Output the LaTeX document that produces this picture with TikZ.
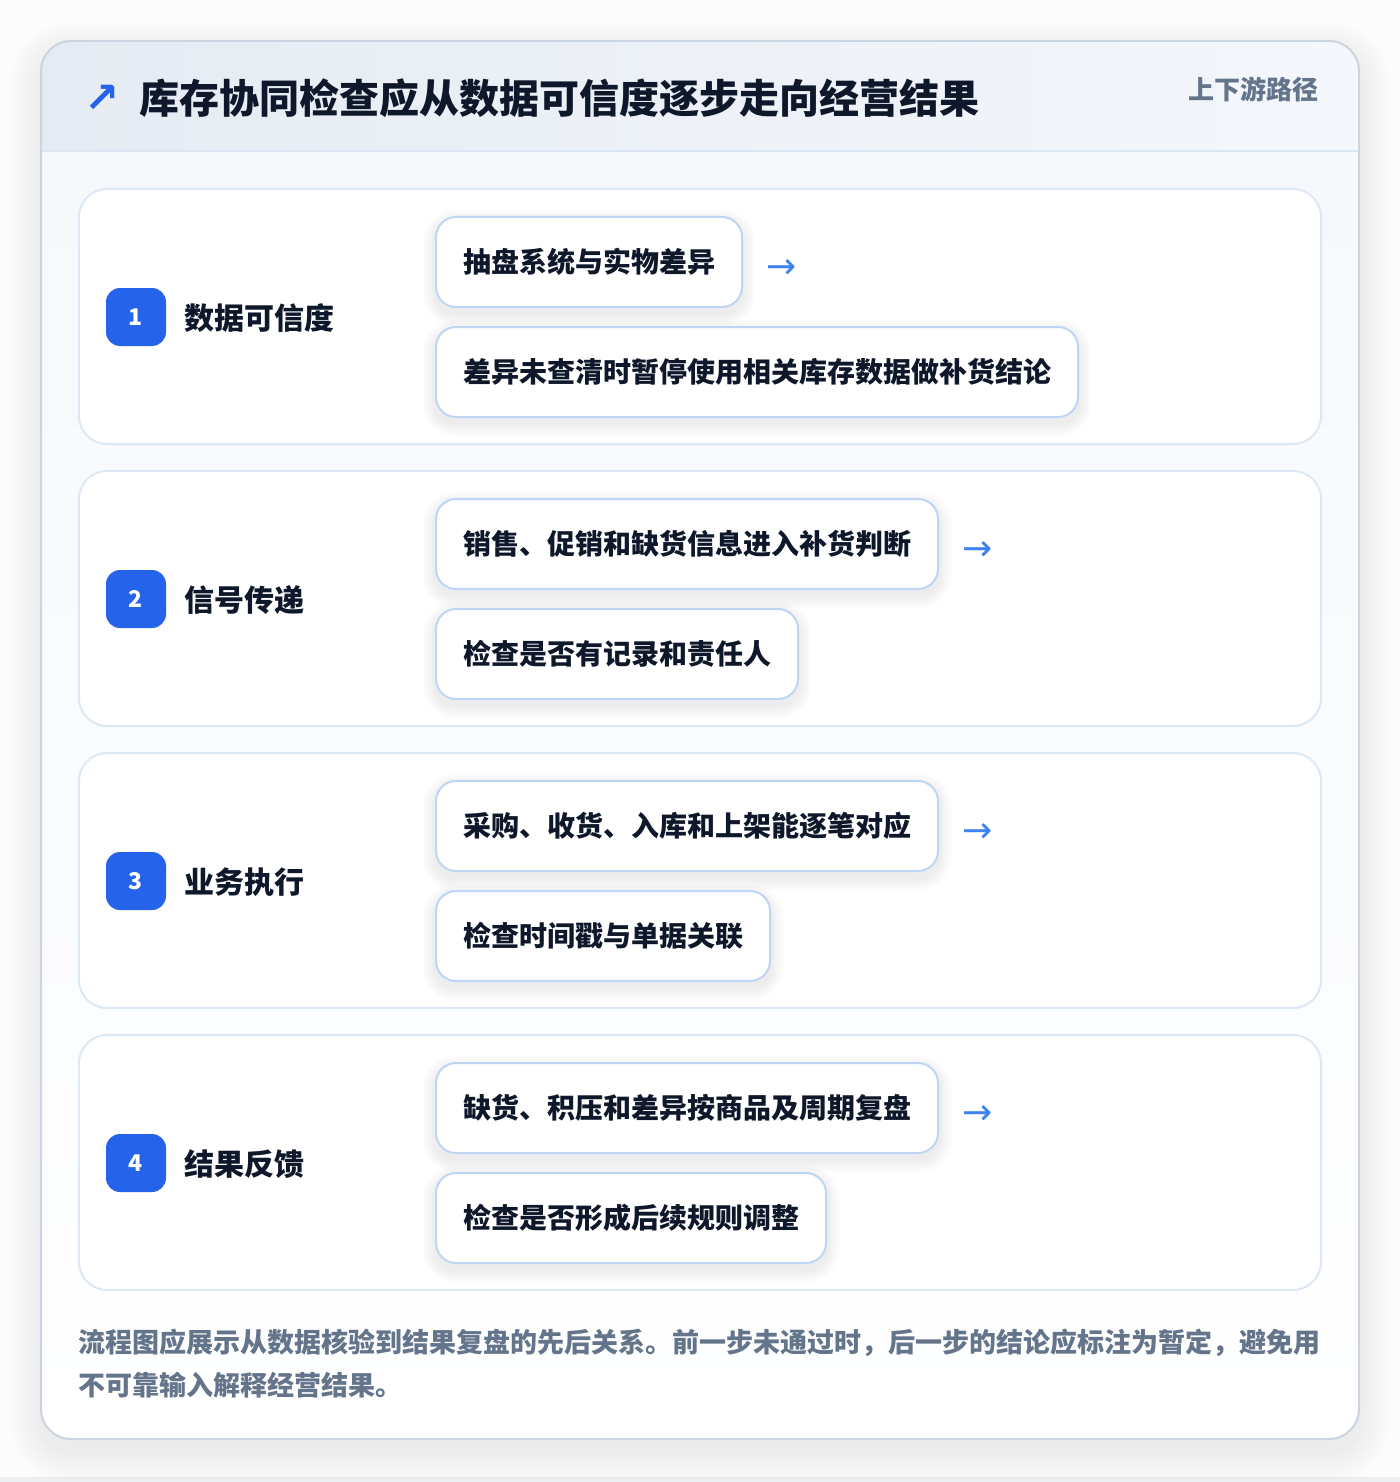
\documentclass[tikz,border=0pt]{standalone}
\usepackage{fontspec}
\setmainfont{Noto Sans CJK SC}
\newfontfamily\symfont{DejaVu Sans}
\definecolor{ink}{HTML}{0F172A}
\definecolor{muted}{HTML}{64748B}
\definecolor{badgeblue}{HTML}{2563EB}
\definecolor{arrowblue}{HTML}{3B82F6}
\definecolor{itemborder}{HTML}{BFD5F3}
\definecolor{stageborder}{HTML}{DCE8F6}
\definecolor{cardborder}{HTML}{CBD5E1}
\definecolor{hdrL}{HTML}{E6EBF3}
\definecolor{hdrR}{HTML}{F4F7FB}
\definecolor{hdrline}{HTML}{DCE6F2}
\definecolor{bodyT}{HTML}{F6F8FC}
\definecolor{pagebg}{HTML}{FCFCFD}
\definecolor{pagestrip}{HTML}{EEEFF2}
\pgfdeclarelayer{back}
\pgfdeclarelayer{mid}
\pgfsetlayers{back,mid,main}
\newcommand\itemshadow[1]{%
  \begin{pgfonlayer}{mid}
  \foreach \k in {1,...,9}{%
    \fill[black,opacity=0.009,rounded corners={10pt+\k*0.7pt}]
      ([xshift=-\k*0.7pt,yshift={-3pt-\k*0.7pt}]#1.south west) rectangle
      ([xshift=\k*0.7pt,yshift={-3pt+\k*0.7pt}]#1.north east);}
  \end{pgfonlayer}}
\begin{document}
\begin{tikzpicture}[x=0.5pt,y=-0.5pt,
  stagecard/.style={draw=stageborder,line width=1pt,fill=white,rounded corners=14pt,
    minimum width=621pt,minimum height=127.5pt,inner sep=0pt},
  badge/.style={fill=badgeblue,rounded corners=7pt,minimum width=30pt,minimum height=29pt,
    inner sep=0pt,text=white,font=\bfseries\fontsize{11.5pt}{12pt}\selectfont},
  stagelabel/.style={anchor=west,text=ink,inner sep=0pt,font=\bfseries\fontsize{15pt}{16pt}\selectfont},
  item/.style={anchor=west,draw=itemborder,line width=1pt,fill=white,rounded corners=10pt,
    minimum height=45pt,inner xsep=13.5pt,inner ysep=0pt,text=ink,
    font=\bfseries\fontsize{14pt}{15pt}\selectfont},
  arr/.style={anchor=west,inner sep=0pt,text=arrowblue,font=\symfont\fontsize{18pt}{18pt}\selectfont},
  foot/.style={anchor=west,inner sep=0pt,text=muted,font=\bfseries\fontsize{13.5pt}{14pt}\selectfont}]
\begin{pgfonlayer}{back}
  \fill[pagebg] (0,0) rectangle (1400,1482);
  \fill[pagestrip] (0,1477) rectangle (1400,1482);
  \useasboundingbox (0,0) rectangle (1400,1482);
  \foreach \k in {1,...,16}
    \fill[black,opacity=0.005,rounded corners={15pt+\k*1pt}]
      ({41-\k*2},{41-\k*2+12}) rectangle ({1359+\k*2},{1439+\k*2+12});
  \begin{scope}
    \clip[rounded corners=15pt] (41,41) rectangle (1359,1439);
    \shade[left color=hdrL,right color=hdrR] (41,41) rectangle (1359,151);
    \shade[top color=bodyT,bottom color=white] (41,151) rectangle (1359,1439);
  \end{scope}
  \draw[hdrline,line width=1pt] (41,151) -- (1359,151);
  \draw[cardborder,line width=1pt,rounded corners=15pt] (41,41) rectangle (1359,1439);
  \node[stagecard] (s1) at (700,316.5) {};
  \node[stagecard] (s2) at (700,598.5) {};
  \node[stagecard] (s3) at (700,880.5) {};
  \node[stagecard] (s4) at (700,1162.5) {};
\end{pgfonlayer}
% header
\node[inner sep=0pt,text=badgeblue,font=\symfont\bfseries\fontsize{21pt}{21pt}\selectfont] (ticon) at (102,99) {↗};
\node[anchor=west,inner sep=0pt,text=ink,font=\bfseries\fontsize{20pt}{21pt}\selectfont] (title) at (139,98) {库存协同检查应从数据可信度逐步走向经营结果};
\node[anchor=east,inner sep=0pt,text=muted,font=\bfseries\fontsize{13pt}{14pt}\selectfont] (tag) at (1319,89) {上下游路径};
% stage 1
\node[badge] (b1) at (136,317) {1};
\node[stagelabel] (l1) at (184,318) {数据可信度};
\node[item] (i11) at (435,262) {抽盘系统与实物差异};
\node[item] (i12) at (435,372) {差异未查清时暂停使用相关库存数据做补货结论};
\node[arr] (a1) at ([xshift=11.5pt,yshift=-3.5pt]i11.east) {→};
% stage 2
\node[badge] (b2) at (136,599) {2};
\node[stagelabel] (l2) at (184,600) {信号传递};
\node[item] (i21) at (435,544) {销售、促销和缺货信息进入补货判断};
\node[item] (i22) at (435,654) {检查是否有记录和责任人};
\node[arr] (a2) at ([xshift=11.5pt,yshift=-3.5pt]i21.east) {→};
% stage 3
\node[badge] (b3) at (136,881) {3};
\node[stagelabel] (l3) at (184,882) {业务执行};
\node[item] (i31) at (435,826) {采购、收货、入库和上架能逐笔对应};
\node[item] (i32) at (435,936) {检查时间戳与单据关联};
\node[arr] (a3) at ([xshift=11.5pt,yshift=-3.5pt]i31.east) {→};
% stage 4
\node[badge] (b4) at (136,1163) {4};
\node[stagelabel] (l4) at (184,1164) {结果反馈};
\node[item] (i41) at (435,1108) {缺货、积压和差异按商品及周期复盘};
\node[item] (i42) at (435,1218) {检查是否形成后续规则调整};
\node[arr] (a4) at ([xshift=11.5pt,yshift=-3.5pt]i41.east) {→};
\itemshadow{i11}\itemshadow{i12}\itemshadow{i21}\itemshadow{i22}
\itemshadow{i31}\itemshadow{i32}\itemshadow{i41}\itemshadow{i42}
% footer
\node[foot] (f1) at (78,1343) {流程图应展示从数据核验到结果复盘的先后关系。前一步未通过时，后一步的结论应标注为暂定，避免用};
\node[foot] (f2) at (78,1385) {不可靠输入解释经营结果。};
\end{tikzpicture}
\end{document}
